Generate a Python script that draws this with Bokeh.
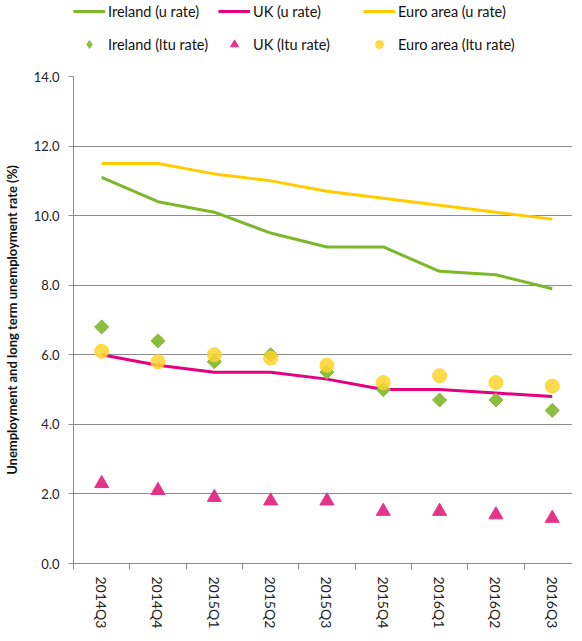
import math
from bokeh.plotting import figure
from bokeh.layouts import column
from bokeh.models import Range1d, FixedTicker, Legend, LegendItem, CustomJSTickFormatter
from bokeh.embed import file_html
from bokeh.resources import INLINE

quarters = ["2014Q3", "2014Q4", "2015Q1", "2015Q2", "2015Q3", "2015Q4", "2016Q1", "2016Q2", "2016Q3"]
ireland_u = [11.1, 10.4, 10.1, 9.5, 9.1, 9.1, 8.4, 8.3, 7.9]
uk_u = [6.0, 5.7, 5.5, 5.5, 5.3, 5.0, 5.0, 4.9, 4.8]
euro_u = [11.5, 11.5, 11.2, 11.0, 10.7, 10.5, 10.3, 10.1, 9.9]
ireland_ltu = [6.8, 6.4, 5.8, 6.0, 5.5, 5.0, 4.7, 4.7, 4.4]
uk_ltu = [2.3, 2.1, 1.9, 1.8, 1.8, 1.5, 1.5, 1.4, 1.3]
euro_ltu = [6.1, 5.8, 6.0, 5.9, 5.7, 5.2, 5.4, 5.2, 5.1]
y_ticks = [0, 2, 4, 6, 8, 10, 12, 14]

GREEN = "#7DB82A"
GREEN_M = "#8BBD3E"
PINK = "#E5007D"
PINK_M = "#E6338A"
YELLOW = "#FFCC00"
YELLOW_M = "#FFD32A"
FONT = "Lato"

xs = [i + 0.5 for i in range(len(quarters))]

# ---------- main chart ----------
p = figure(frame_width=499, frame_height=487, output_backend="svg", toolbar_location=None,
           x_range=Range1d(0, 8.86), y_range=Range1d(0, 14),
           min_border_left=67, min_border_right=0, min_border_top=8, min_border_bottom=0)
p.outline_line_color = None

r1 = p.line(xs, ireland_u, line_color=GREEN, line_width=3)
r2 = p.line(xs, uk_u, line_color=PINK, line_width=3)
r3 = p.line(xs, euro_u, line_color=YELLOW, line_width=3)
r4 = p.scatter(xs, ireland_ltu, marker="square", angle=math.pi / 4, size=10,
               fill_color=GREEN_M, line_color=GREEN_M)
r5 = p.scatter(xs, uk_ltu, marker="triangle", size=14, fill_color=PINK_M, line_color=PINK_M)
r6 = p.scatter(xs, euro_ltu, marker="circle", size=14, fill_color=YELLOW_M, line_color=YELLOW_M,
               fill_alpha=0.85, line_alpha=0.85)

# y axis
p.yaxis.ticker = FixedTicker(ticks=y_ticks)
p.yaxis.formatter = CustomJSTickFormatter(code="return tick.toFixed(1);")
p.yaxis.major_label_text_font = FONT
p.yaxis.major_label_text_font_size = "13px"
p.yaxis.major_label_text_color = "#222222"
p.yaxis.major_tick_out = 5
p.yaxis.major_tick_in = 0
p.yaxis.minor_tick_out = 0
p.yaxis.minor_tick_in = 0
p.yaxis.major_label_standoff = 9
p.yaxis.axis_line_color = "#8C8C8C"
p.yaxis.major_tick_line_color = "#8C8C8C"
p.yaxis.axis_label = "Unemployment and long term unemployment rate (%)"
p.yaxis.axis_label_text_font = FONT
p.yaxis.axis_label_text_font_style = "bold"
p.yaxis.axis_label_text_font_size = "13px"
p.yaxis.axis_label_text_color = "#111111"
p.yaxis.axis_label_standoff = 11

# x axis
p.xaxis.ticker = FixedTicker(ticks=xs, minor_ticks=list(range(len(quarters) + 1)))
p.xaxis.major_label_overrides = {x: q for x, q in zip(xs, quarters)}
p.xaxis.major_label_orientation = "vertical"
p.xaxis.major_label_text_font = FONT
p.xaxis.major_label_text_font_size = "14px"
p.xaxis.major_label_text_color = "#222222"
p.xaxis.major_tick_out = 0
p.xaxis.major_tick_in = 0
p.xaxis.minor_tick_out = 6
p.xaxis.minor_tick_in = 0
p.xaxis.major_label_standoff = 7
p.xaxis.axis_line_color = "#8C8C8C"
p.xaxis.minor_tick_line_color = "#8C8C8C"

p.xgrid.visible = False
p.ygrid.ticker = FixedTicker(ticks=y_ticks)
p.ygrid.grid_line_color = "#8C8C8C"
p.ygrid.grid_line_width = 1

# ---------- legend strip (separate figure without axes) ----------
LEG_H = 68
lf = figure(width=566, height=LEG_H, output_backend="svg", toolbar_location=None,
            x_range=Range1d(0, 1), y_range=Range1d(0, 1),
            x_axis_location=None, y_axis_location=None,
            min_border_left=0, min_border_right=0, min_border_top=0, min_border_bottom=0)
lf.grid.visible = False
lf.outline_line_color = None

# legend-key glyphs, kept outside the visible range of the strip
hide_x = [-5, -4]
hide_y = [-5, -4]
l1 = lf.line(hide_x, hide_y, line_color=GREEN, line_width=3)
l2 = lf.line(hide_x, hide_y, line_color=PINK, line_width=3)
l3 = lf.line(hide_x, hide_y, line_color=YELLOW, line_width=3)
l4 = lf.scatter(hide_x, hide_y, marker="diamond", size=15, fill_color=GREEN_M, line_color=GREEN_M)
l5 = lf.scatter(hide_x, hide_y, marker="triangle", size=14, fill_color=PINK_M, line_color=PINK_M)
l6 = lf.scatter(hide_x, hide_y, marker="circle", size=14, fill_color=YELLOW_M, line_color=YELLOW_M,
                fill_alpha=0.85, line_alpha=0.85)

common = dict(orientation="horizontal",
              border_line_color=None, background_fill_alpha=0,
              label_text_font=FONT, label_text_font_size="14.5px", label_text_color="#111111",
              glyph_width=32, glyph_height=20, label_height=20, label_standoff=3, label_width=106,
              spacing=4, padding=0, margin=0)
legend1 = Legend(items=[
    LegendItem(label="Ireland (u rate)", renderers=[l1]),
    LegendItem(label="UK (u rate)", renderers=[l2]),
    LegendItem(label="Euro area (u rate)", renderers=[l3]),
], location=(0, LEG_H - 21), **common)
legend2 = Legend(items=[
    LegendItem(label="Ireland (ltu rate)", renderers=[l4]),
    LegendItem(label="UK (ltu rate)", renderers=[l5]),
    LegendItem(label="Euro area (ltu rate)", renderers=[l6]),
], location=(0, LEG_H - 54), **common)
lf.add_layout(legend1, "center")
lf.add_layout(legend2, "center")

layout = column(lf, p, spacing=0)
open("out.html", "w").write(file_html(layout, INLINE))
